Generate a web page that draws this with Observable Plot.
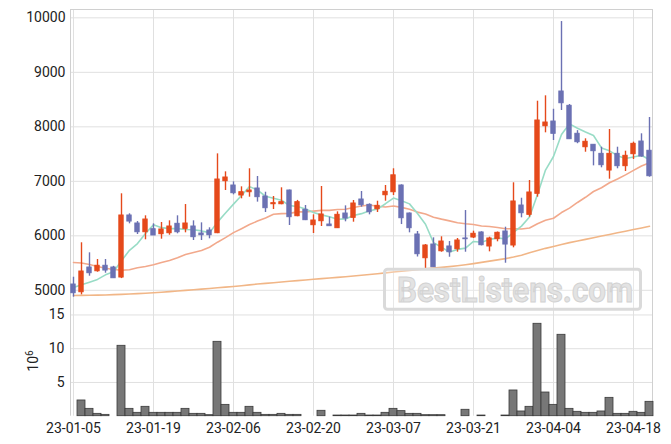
<!DOCTYPE html>
<html><head><meta charset="utf-8">
<script src="https://cdn.jsdelivr.net/npm/d3@7"></script>
<script src="https://cdn.jsdelivr.net/npm/@observablehq/plot@0.6"></script>
<style>
body{margin:0;background:#fff}
#wrap{position:relative;width:671px;height:444px;overflow:hidden}
#wrap svg{display:block}
#wm{position:absolute;left:0;top:0;pointer-events:none}
</style>
</head><body><div id="wrap"></div>
<script>
// ---- data ----
const tickIndex = [0, 10, 20, 30, 40, 50, 60, 70];
const tickLabels = ["23-01-05","23-01-19","23-02-06","23-02-20","23-03-07","23-03-21","23-04-04","23-04-18"];
const priceTicks = [5000, 6000, 7000, 8000, 9000, 10000];
const volTicks = [5, 10, 15];

const open  = [5106,4965,5418,5350,5450,5418,5235,6373,6226,6066,6121,6030,6048,6220,6128,6171,6042,6097,6048,7002,6923,6740,6800,6868,6721,6580,6580,6831,6360,6477,6195,6268,6207,6140,6409,6330,6666,6568,6488,6745,6800,6923,6409,6024,5589,5840,5717,5804,5754,5951,5969,6061,5804,5938,6079,5822,6556,6385,6771,8011,8097,8648,8385,7872,7626,7670,7504,7198,7504,7278,7498,7730,7560];
const high  = [5240,5872,5688,5565,5565,5440,6771,6404,6262,6367,6220,6244,6275,6367,6574,6275,6238,6147,7504,7174,6990,6899,7230,7088,6800,6721,6881,6840,6650,6556,6385,6905,6342,6440,6550,6648,6813,6587,6635,6923,7230,6936,6420,6079,5840,5963,5982,5895,5951,6464,6085,6075,5975,6070,6158,6973,6690,7015,8470,8569,8322,9932,8410,7930,7780,7670,7626,7951,7626,7553,7719,7872,8171];
const low   = [4873,4917,5259,5332,5314,5222,5215,6220,6024,5927,6006,5938,6011,6037,6055,5914,5914,5945,6040,6831,6752,6679,6709,6618,6428,6483,6570,6189,6350,6280,6042,6171,6177,6135,6257,6250,6525,6385,6428,6635,6740,6207,6055,5611,5376,5424,5699,5607,5699,5699,5951,5815,5706,5890,5497,5780,6330,6342,6709,7890,7749,8300,7773,7690,7534,7284,7248,7039,7230,7180,7400,7443,7076];
const close = [4947,5345,5314,5450,5363,5222,6373,6262,6066,6299,6006,6116,6171,6066,6226,5975,6011,6011,7033,7070,6782,6800,6831,6709,6507,6599,6617,6342,6617,6287,6281,6391,6177,6385,6318,6593,6562,6433,6550,6807,7110,6323,6140,5663,5822,5424,5895,5699,5914,5938,6037,5828,5951,6055,5840,6630,6415,6795,8116,8079,7872,8433,7773,7718,7725,7553,7296,7504,7278,7468,7688,7455,7094];
const volume = [0,2.33,1.09,0.35,0.2,0,10.43,1.09,0.5,1.39,0.5,0.5,0.5,0.5,1.09,0.35,0.35,0.15,11.02,1.68,0.5,0.5,1.39,0.5,0.2,0.2,0.35,0.2,0.2,0,0,0.8,0,0.1,0.1,0.1,0.35,0.1,0.1,0.5,1.09,0.75,0.35,0.35,0.15,0.15,0.15,0,0,0.95,0,0.1,0,0,0.1,3.81,0.7,1.39,13.69,3.51,1.68,12.06,1.09,0.65,0.5,0.5,0.7,2.72,0.35,0.35,0.65,0.5,2.13];
const ma5 = [5050,5100,5150,5200,5284,5339,5544,5734,5857,6044,6201,6150,6132,6132,6117,6111,6090,6058,6251,6420,6581,6739,6903,6838,6726,6689,6653,6555,6536,6492,6429,6384,6351,6304,6310,6373,6407,6458,6491,6589,6692,6645,6586,6409,6212,5874,5789,5701,5751,5774,5897,5883,5934,5962,5942,6061,6178,6347,6759,7207,7455,7859,8055,7975,7904,7840,7613,7559,7471,7420,7447,7479,7397];
const ma20 = [5510,5500,5473,5437,5406,5382,5369,5376,5413,5437,5468,5510,5547,5596,5657,5694,5730,5791,5883,5966,6058,6131,6207,6270,6327,6396,6408,6412,6439,6439,6453,6466,6467,6483,6487,6518,6546,6567,6543,6529,6546,6522,6487,6435,6401,6342,6306,6274,6239,6221,6209,6181,6170,6153,6129,6131,6124,6142,6220,6284,6322,6427,6509,6612,6707,6813,6883,6974,7042,7118,7201,7282,7339];
const maLong = [4905,4907,4909,4912,4915,4920,4926,4932,4939,4946,4955,4965,4975,4986,4998,5010,5022,5034,5046,5058,5070,5085,5100,5115,5128,5140,5153,5166,5178,5190,5202,5214,5226,5238,5250,5262,5275,5290,5305,5320,5335,5350,5365,5380,5395,5408,5420,5435,5452,5470,5490,5512,5535,5558,5582,5610,5645,5690,5730,5770,5805,5840,5875,5905,5935,5965,5995,6025,6055,6085,6115,6145,6175];

// ---- build ----
const UP = "#e5491b", DOWN = "#6b71b3";
const rows = open.map((o, i) => ({i, open: o, high: high[i], low: low[i], close: close[i],
  vol: volume[i], ma5: ma5[i], ma20: ma20[i], maL: maLong[i], up: close[i] >= o}));
const ups = rows.filter(d => d.up), downs = rows.filter(d => !d.up);
const xDomain = [-0.375, 72.375];
const GRID = "#e0e0e0", FRAME = "#d0d0d0";
const style = {fontFamily: "Roboto", fontSize: "14px", color: "#222", background: "transparent", overflow: "visible"};

const price = Plot.plot({
  width: 671, height: 300,
  marginLeft: 70, marginRight: 19, marginTop: 9, marginBottom: 0,
  style,
  x: {domain: xDomain, axis: null},
  y: {domain: [4813, 10153], ticks: priceTicks, tickSize: 0, tickPadding: 5, label: null, tickFormat: d => String(d)},
  marks: [
    Plot.ruleY(priceTicks, {stroke: GRID}),
    Plot.ruleX(tickIndex, {stroke: GRID}),
    Plot.ruleX(xDomain, {stroke: FRAME}),
    Plot.ruleY([10153], {stroke: FRAME}),
    Plot.line(rows, {x: "i", y: "maL", stroke: "#f1b687", strokeWidth: 1.6}),
    Plot.line(rows, {x: "i", y: "ma20", stroke: "#f2a98c", strokeWidth: 1.6}),
    Plot.line(rows, {x: "i", y: "ma5", stroke: "#98dcc6", strokeWidth: 1.6}),
    Plot.ruleX(ups, {x: "i", y1: "low", y2: "high", stroke: UP, strokeWidth: 1.4}),
    Plot.ruleX(downs, {x: "i", y1: "low", y2: "high", stroke: DOWN, strokeWidth: 1.4}),
    Plot.rect(ups, {x1: d => d.i - 0.27, x2: d => d.i + 0.27, y1: "open", y2: "close", fill: UP, stroke: UP, strokeWidth: 1}),
    Plot.rect(downs, {x1: d => d.i - 0.27, x2: d => d.i + 0.27, y1: "open", y2: "close", fill: DOWN, stroke: DOWN, strokeWidth: 1})
  ]
});

const volPlot = Plot.plot({
  width: 671, height: 144,
  marginLeft: 70, marginRight: 19, marginTop: 0, marginBottom: 28.3,
  style,
  x: {domain: xDomain, ticks: tickIndex, tickFormat: d => tickLabels[tickIndex.indexOf(d)], tickSize: 0, tickPadding: 7, label: null},
  y: {domain: [0, 17.14], ticks: volTicks, tickSize: 0, tickPadding: 6, label: null},
  marks: [
    Plot.ruleY(volTicks, {stroke: GRID}),
    Plot.ruleX(tickIndex, {stroke: GRID}),
    Plot.ruleX(xDomain, {stroke: FRAME}),
    Plot.rectY(rows.filter(d => d.vol > 0), {x1: d => d.i - 0.5, x2: d => d.i + 0.5, y: "vol", fill: "#777", stroke: "#3a3a3a", strokeWidth: 0.8})
  ]
});

const wrap = document.getElementById("wrap");
wrap.appendChild(price);
wrap.appendChild(volPlot);

// y label 10^6 on the volume panel
const vs = d3.select(volPlot);
const lab = vs.append("text")
  .attr("transform", "translate(38,61) rotate(-90)")
  .attr("text-anchor", "middle")
  .attr("fill", "#222")
  .style("font-family", "Roboto").style("font-size", "14px");
lab.append("tspan").text("10");
lab.append("tspan").attr("dy", -5).style("font-size", "10px").text("6");

// watermark
const wm = d3.select(wrap).append("svg").attr("id", "wm").attr("width", 671).attr("height", 444);
wm.append("rect").attr("x", 384.5).attr("y", 269.2).attr("width", 256).attr("height", 40)
  .attr("rx", 3).attr("fill", "rgba(255,255,255,0.25)").attr("stroke", "#dadada").attr("stroke-width", 3);
wm.append("text").attr("x", 397).attr("y", 301.7)
  .attr("textLength", 236).attr("lengthAdjust", "spacingAndGlyphs")
  .style("font-family", "Roboto").style("font-weight", "bold").style("font-size", "35px")
  .attr("fill", "#e3e3e3").attr("stroke", "#d2d2d2").attr("stroke-width", 1)
  .text("BestListens.com");
</script>
</body></html>
